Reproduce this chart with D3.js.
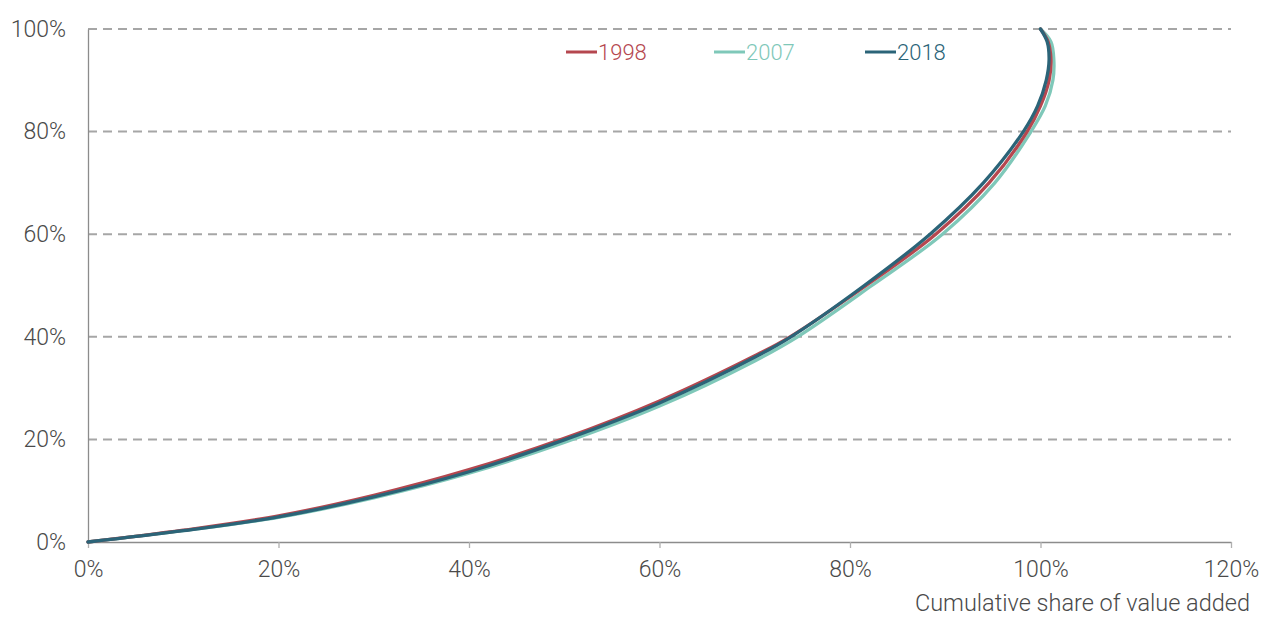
<!DOCTYPE html>
<html><head><meta charset="utf-8">
<script src="https://cdn.jsdelivr.net/npm/d3@7"></script>
<style>body{margin:0;background:#fff}svg{display:block}text{font-family:Roboto,"Open Sans",sans-serif;font-weight:300}</style>
</head><body><svg id="c" width="1261" height="617"></svg>
<script>
const seriesNames = ["1998","2007","2018"];
const seriesColors = ["#b5474f","#7fc8b9","#2b6478"];
// points [cumulative share of value added %, cumulative share %]
const s1998 = [[0,0],[10,2.3],[20,5.1],[30,9.1],[40,14.1],[50,20.2],[60,27.5],[70,36.3],[73.7,40],[81.7,50],[89.0,60],[94.6,70],[98.6,80],[100.0,85],[100.9,90],[101.1,94],[100.8,97.5],[100,100]];
const s2007 = [[0,0],[10,2.2],[20,4.8],[30,8.6],[40,13.4],[50,19.4],[60,26.5],[70,35.3],[74.5,40],[82.3,50],[89.7,60],[95.2,70],[99.0,80],[100.5,85],[101.3,90],[101.4,94],[101.1,97.5],[100,100]];
const s2018 = [[0,0],[10,2.2],[20,4.9],[30,8.8],[40,13.7],[50,19.9],[60,27.1],[70,36.0],[73.8,40],[81.5,50],[88.4,60],[94.0,70],[98.2,80],[99.7,85],[100.6,90],[100.9,94],[100.7,97.5],[100,100]];
const seriesData = [s1998, s2007, s2018];
const xTicks = [0,20,40,60,80,100,120];
const yTicks = [0,20,40,60,80,100];
const xTitle = "Cumulative share of value added";

const svg = d3.select("#c");
const x = d3.scaleLinear().domain([0,120]).range([88,1231]);
const y = d3.scaleLinear().domain([0,100]).range([542,29]);

// gridlines
svg.append("g").selectAll("line").data(yTicks.filter(d=>d>0)).join("line")
  .attr("x1",x(0)).attr("x2",x(120)).attr("y1",d=>y(d)).attr("y2",d=>y(d))
  .attr("stroke","#a6a6a6").attr("stroke-width",2).attr("stroke-dasharray","9,6");

// y axis
const ya = svg.append("g").attr("transform",`translate(${x(0)},0)`)
  .call(d3.axisLeft(y).tickValues(yTicks).tickFormat(d=>d+"%").tickSize(0).tickPadding(22));
ya.select(".domain").attr("stroke","#8c8c8c").attr("stroke-width",1.3);
ya.selectAll("text").attr("font-size",23).attr("fill","#4a4a4a").style("font-family","Roboto").style("font-weight",300);

// x axis
const xa = svg.append("g").attr("transform",`translate(0,${y(0)})`)
  .call(d3.axisBottom(x).tickValues(xTicks).tickFormat(d=>d+"%").tickSize(6).tickSizeOuter(0).tickPadding(13));
xa.select(".domain").attr("stroke","#8c8c8c").attr("stroke-width",1.3);
xa.selectAll(".tick line").attr("stroke","#b0b0b0").attr("stroke-width",1.3);
xa.selectAll("text").attr("font-size",23).attr("fill","#4a4a4a").style("font-family","Roboto").style("font-weight",300);

svg.append("text").attr("x",1250).attr("y",611).attr("text-anchor","end")
  .attr("font-size",23.5).attr("fill","#4a4a4a").text(xTitle);

// lines
const line = d3.line().x(d=>x(d[0])).y(d=>y(d[1])).curve(d3.curveCatmullRom.alpha(0.5));
const order = [1,0,2];
svg.append("g").selectAll("path").data(order).join("path")
  .attr("d",i=>line(seriesData[i])).attr("fill","none")
  .attr("stroke",i=>seriesColors[i]).attr("stroke-width",3.3).attr("stroke-linecap","round");

// legend
const legX = [566,714,865];
const lg = svg.append("g").selectAll("g").data(seriesNames).join("g")
  .attr("transform",(d,i)=>`translate(${legX[i]},52)`);
lg.append("line").attr("x1",0).attr("x2",31).attr("y1",0).attr("y2",0)
  .attr("stroke",(d,i)=>seriesColors[i]).attr("stroke-width",3);
lg.append("text").attr("x",32).attr("y",8).attr("font-size",22)
  .attr("fill",(d,i)=>seriesColors[i]).text(d=>d);
</script></body></html>
